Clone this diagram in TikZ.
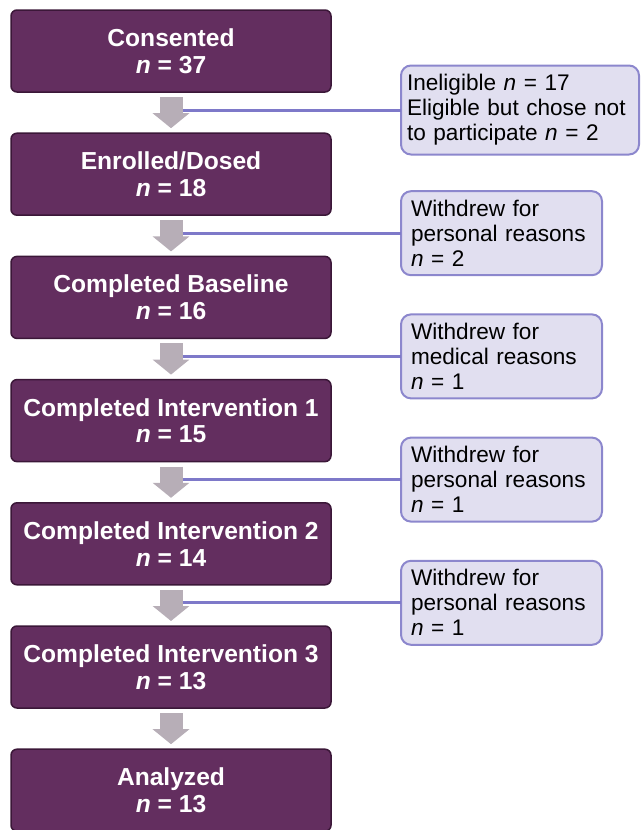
\documentclass[tikz,border=0pt]{standalone}
\usepackage{fontspec}
\setmainfont{Liberation Sans}
\usetikzlibrary{positioning,arrows.meta}
\definecolor{plum}{HTML}{632E5F}
\definecolor{plumline}{HTML}{3B1738}
\definecolor{flowgray}{HTML}{B7AEB7}
\definecolor{linkblue}{HTML}{7E79C9}
\definecolor{notefill}{HTML}{E1DFF0}
\definecolor{noteline}{HTML}{8C87CD}

\begin{document}
\begin{tikzpicture}[x=1pt, y=-1pt,
    stagenode/.style={rectangle, rounded corners=6pt, draw=plumline, line width=1.5pt, fill=plum, text=white, minimum width=320pt, minimum height=82pt, inner sep=0pt, outer sep=0pt, align=center, font=\fontsize{24.6pt}{26.7pt}\selectfont\bfseries},
    notenode/.style={rectangle, rounded corners=10pt, draw=noteline, line width=2pt, fill=notefill, text width=181pt, minimum height=84pt, inner xsep=10pt, inner ysep=3pt, outer sep=0pt, align=left, font=\fontsize{22.6pt}{25pt}\selectfont},
    flow/.style={draw=flowgray, line width=23pt, -{Triangle[width=36pt, length=15pt]}},
    link/.style={draw=linkblue, line width=3pt},
    node distance=41.2pt
]
\useasboundingbox (0,0) rectangle (640,830);
\node[stagenode](consent) at (171,51){Consented\\\textit{n} = 37};
\node[stagenode](enrol)[below=of consent]{Enrolled/Dosed\\\textit{n} = 18};
\node[stagenode](base)[below=of enrol]{Completed Baseline\\\textit{n} = 16};
\node[stagenode](int1)[below=of base]{Completed Intervention 1\\\textit{n} = 15};
\node[stagenode](int2)[below=of int1]{Completed Intervention 2\\\textit{n} = 14};
\node[stagenode](int3)[below=of int2]{Completed Intervention 3\\\textit{n} = 13};
\node[stagenode](anal)[below=of int3]{Analyzed\\\textit{n} = 13};
\draw[flow] ([yshift=-5pt]consent.south) -- ([yshift=5pt]enrol.north);
\draw[flow] ([yshift=-5pt]enrol.south) -- ([yshift=5pt]base.north);
\draw[flow] ([yshift=-5pt]base.south) -- ([yshift=5pt]int1.north);
\draw[flow] ([yshift=-5pt]int1.south) -- ([yshift=5pt]int2.north);
\draw[flow] ([yshift=-5pt]int2.south) -- ([yshift=5pt]int3.north);
\draw[flow] ([yshift=-5pt]int3.south) -- ([yshift=5pt]anal.north);
\coordinate (c1) at ([xshift=11.5pt, yshift=-18pt]consent.south);
\coordinate (c2) at ([xshift=11.5pt, yshift=-18pt]enrol.south);
\coordinate (c3) at ([xshift=11.5pt, yshift=-18pt]base.south);
\coordinate (c4) at ([xshift=11.5pt, yshift=-18pt]int1.south);
\coordinate (c5) at ([xshift=11.5pt, yshift=-18pt]int2.south);
\node[notenode, text width=226pt, inner xsep=6pt, minimum height=89pt](excl)[right=218.5pt of c1]{Ineligible \textit{n} = 17\\Eligible but chose not\\to participate \textit{n} = 2};
\node[notenode](wd1)[right=218.5pt of c2]{Withdrew for\\personal reasons\\\textit{n} = 2};
\node[notenode](wd2)[right=218.5pt of c3]{Withdrew for\\medical reasons\\\textit{n} = 1};
\node[notenode](wd3)[right=218.5pt of c4]{Withdrew for\\personal reasons\\\textit{n} = 1};
\node[notenode](wd4)[right=218.5pt of c5]{Withdrew for\\personal reasons\\\textit{n} = 1};
\draw[link] (c1) -- (excl.west);
\draw[link] (c2) -- (wd1.west);
\draw[link] (c3) -- (wd2.west);
\draw[link] (c4) -- (wd3.west);
\draw[link] (c5) -- (wd4.west);
\end{tikzpicture}
\end{document}
